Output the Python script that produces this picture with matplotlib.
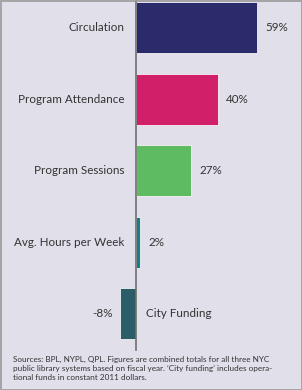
import matplotlib.pyplot as plt
from matplotlib.patches import Rectangle

# data
categories = ['Circulation', 'Program Attendance', 'Program Sessions',
              'Avg. Hours per Week', 'City Funding']
changes = [59, 40, 27, 2, -8]
colors = ['#2b2a6b', '#d21f6a', '#5fbb62', '#137f8a', '#2b5d69']
note = ("Sources: BPL, NYPL, QPL. Figures are combined totals for all three NYC\n"
        "public library systems based on fiscal year. \u2018City funding\u2019 includes opera-\n"
        "tional funds in constant 2011 dollars.")

plt.rcParams['font.family'] = ['Lato', 'DejaVu Sans']
bg = '#e1dfea'

fig = plt.figure(figsize=(3.02, 3.90), dpi=100)
fig.patch.set_facecolor(bg)
ax = fig.add_axes([0, 0, 1, 1])
ax.set_facecolor(bg)
ax.axis('off')

# pixel mapping: zero at x=136 px, ~2.05 px per percent
ax.set_xlim((0 - 136) / 2.05, (302 - 136) / 2.05)
ax.set_ylim((390 - 27.5) / 71.6, -27.5 / 71.6)

ypos = list(range(len(categories)))
ax.barh(ypos, changes, height=0.71, color=colors, edgecolor='#f4f3f8', linewidth=0.6, zorder=2)
ax.axvline(0, ymin=(390 - 350) / 390, ymax=1, color='#6e6e6e', lw=1.2, zorder=3)

for y, cat, v in zip(ypos, categories, changes):
    if v >= 0:
        ax.text(-5.6, y, cat, ha='right', va='center', fontsize=8.4, color='#333333')
        ax.text(v + 3.9, y, f'{v}%', ha='left', va='center', fontsize=8.4, color='#333333')
    else:
        ax.text(5, y, cat, ha='left', va='center', fontsize=8.4, color='#333333')
        ax.text(v - 3.3, y, f'{v}%', ha='right', va='center', fontsize=8.4, color='#333333')

fig.text(13 / 302, 1 - 356 / 390, note, ha='left', va='top', fontsize=5.9,
         color='#333333', linespacing=1.3)

fig.add_artist(Rectangle((0.5 / 302, 0.5 / 390), 301 / 302, 389 / 390, transform=fig.transFigure,
                         fill=False, edgecolor='#9a9a9a', lw=1.2))

fig.savefig('out.png', dpi=100, facecolor=bg)
